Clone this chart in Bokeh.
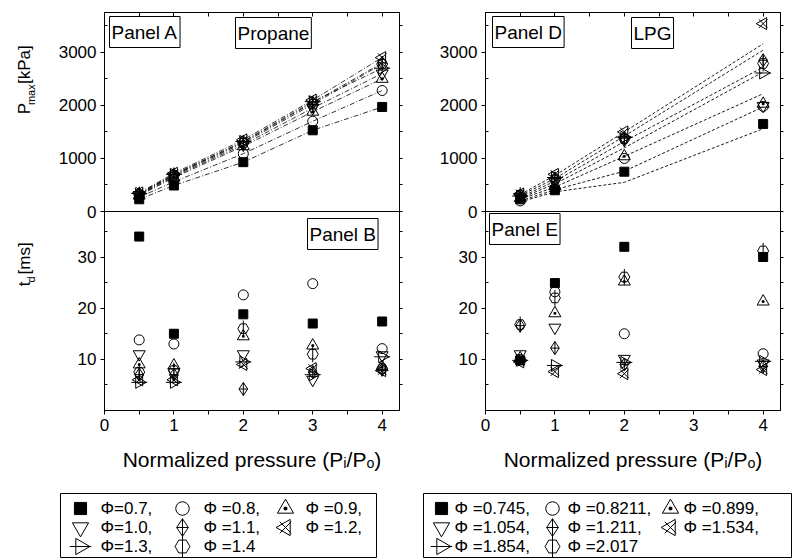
import math
from bokeh.plotting import figure
from bokeh.layouts import column, row
from bokeh.models import Range1d, FixedTicker, LinearAxis, Label, Span, CustomJSTickFormatter
from bokeh.core.properties import value
from bokeh.embed import file_html
from bokeh.resources import INLINE

# ---------------- data ----------------
p_ratio_propane = [0.5, 1, 2, 3, 4]
p_ratio_lpg = [0.5, 1, 2, 4]

phi_propane_labels = ["Φ=0.7,", "Φ =0.8,", "Φ =0.9,", "Φ=1.0,", "Φ =1.1,", "Φ =1.2,", "Φ=1.3,", "Φ =1.4"]
phi_lpg_labels = ["Φ =0.745,", "Φ =0.8211,", "Φ =0.899,", "Φ =1.054,", "Φ =1.211,", "Φ =1.534,", "Φ =1.854,", "Φ =2.017"]

# Panel A: propane, Pmax [kPa]
pmax_propane_07 = [230, 490, 930, 1530, 1970]
pmax_propane_08 = [270, 560, 1090, 1700, 2280]
pmax_propane_09 = [300, 640, 1230, 1880, 2500]
pmax_propane_10 = [310, 660, 1260, 1950, 2600]
pmax_propane_11 = [330, 690, 1310, 2050, 2800]
pmax_propane_12 = [350, 720, 1350, 2100, 2900]
pmax_propane_13 = [340, 700, 1320, 2070, 2700]
pmax_propane_14 = [320, 680, 1290, 2020, 2780]

# Panel B: propane, td [ms]
td_propane_07 = [34.0, 15.0, 18.8, 17.0, 17.4]
td_propane_08 = [13.8, 13.0, 22.6, 24.8, 12.1]
td_propane_09 = [9.0, 8.8, 14.5, 12.7, 8.5]
td_propane_10 = [11.0, 7.5, 11.0, 6.0, 10.8]
td_propane_11 = [7.0, 7.0, 4.2, 7.5, 8.0]
td_propane_12 = [6.0, 6.0, 9.0, 8.2, 7.8]
td_propane_13 = [5.5, 5.5, 9.5, 7.0, 10.5]
td_propane_14 = [7.5, 7.8, 16.0, 11.0, 8.2]

# Panel D: LPG, Pmax [kPa]
pmax_lpg_0745 = [230, 400, 750, 1650]
pmax_lpg_0821 = [200, 430, 1000, 1980]
pmax_lpg_0899 = [250, 480, 1040, 2030]
pmax_lpg_1054 = [270, 560, 1350, 1990]
pmax_lpg_1211 = [300, 620, 1380, 2850]
pmax_lpg_1534 = [330, 700, 1500, 3540]
pmax_lpg_1854 = [290, 640, 1400, 2610]
pmax_lpg_2017 = [310, 600, 1370, 2790]

# Panel D: dashed curves
curve_lpg_1 = [180, 370, 550, 1560]
curve_lpg_2 = [200, 410, 760, 1970]
curve_lpg_3 = [230, 460, 1040, 2220]
curve_lpg_4 = [250, 520, 1200, 2630]
curve_lpg_5 = [270, 570, 1320, 2720]
curve_lpg_6 = [300, 620, 1420, 3040]
curve_lpg_7 = [320, 680, 1500, 3160]

# Panel E: LPG, td [ms]
td_lpg_0745 = [9.8, 24.9, 32.0, 30.0]
td_lpg_0821 = [10.0, 23.2, 15.0, 11.1]
td_lpg_0899 = [10.2, 19.0, 25.2, 21.3]
td_lpg_1054 = [11.0, 16.2, 10.1, 9.2]
td_lpg_1211 = [16.6, 12.2, 9.0, 8.6]
td_lpg_1534 = [9.5, 7.6, 7.2, 8.0]
td_lpg_1854 = [9.8, 8.8, 9.4, 9.6]
td_lpg_2017 = [16.8, 22.0, 26.1, 31.2]

x_ticks = [0, 1, 2, 3, 4]
x_minor = [0.5, 1.5, 2.5, 3.5]
p_ticks = [0, 1000, 2000, 3000]
p_minor = [500, 1500, 2500, 3500]
t_ticks = [0, 10, 20, 30]
t_minor = [5, 15, 25, 35]

# ---------------- styles / layout ----------------
FONT = "Liberation Sans"
TICK_FS = "17px"
STRIP = 48
W_L, W_R = 420, 372
FL_L, FL_R = 104, 399      # left frame (canvas px)
FR_L, FR_R = 485, 780      # right frame
TOP_A, MID, BOT_B = 12, 211, 410
H_MAIN = 493
X_MAX, P_MAX, T_MAX = 4.25, 3750, 38.9
XS = (FL_R - FL_L) / X_MAX
YS_A = (MID - TOP_A) / P_MAX
YS_B = (BOT_B - MID) / T_MAX

MARKERS = [
    [("square", 0, 9, "black")],
    [("circle", 0, 10, None)],
    [("triangle_dot", 0, 12, None)],
    [("inverted_triangle", 0, 12, None)],
    [("diamond_cross", 0, 13, None)],
    [("x", 0, 12, None), ("triangle", math.pi / 2, 12, None)],
    [("triangle", -math.pi / 2, 12, None), ("dash", 0, 16, None)],
    [("hex", 0, 11, None), ("dash", math.pi / 2, 16, None)],
]


def t_to_main(t):
    # lower panel value -> main (upper-panel) units, for the shared left axis
    return -P_MAX + t * P_MAX / T_MAX


LEFT_TICKS = p_ticks + [t_to_main(t) for t in t_ticks if t > 0]
LEFT_MINOR = p_minor + [t_to_main(t) for t in t_minor]
TICK_FMT = CustomJSTickFormatter(code=f"""
    if (tick >= -0.5) return Math.round(tick).toString();
    return Math.round((tick + {P_MAX}) * {T_MAX} / {P_MAX}).toString();
""")


def make_fig(width, left, right):
    p = figure(width=width, height=H_MAIN, x_range=Range1d(0, X_MAX), y_range=Range1d(-P_MAX, P_MAX),
               output_backend="svg", toolbar_location=None,
               min_border_left=left, min_border_right=right, min_border_top=TOP_A,
               min_border_bottom=H_MAIN - BOT_B,
               background_fill_color="white", border_fill_color="white",
               outline_line_color="black", outline_line_width=1,
               x_axis_location=None, y_axis_location=None)
    p.grid.visible = False
    p.extra_y_ranges = {"td": Range1d(0, 2 * T_MAX)}
    p.add_layout(Span(location=0, dimension="width", line_color="black", line_width=1))
    return p


def add_axis(p, place, ticks, minor, fmt, t_in, t_out, m_in, m_out):
    ax = LinearAxis(ticker=FixedTicker(ticks=ticks, minor_ticks=minor),
                    axis_line_color="black", major_tick_line_color="black", minor_tick_line_color="black",
                    major_tick_in=t_in, major_tick_out=t_out, minor_tick_in=m_in, minor_tick_out=m_out,
                    major_label_text_font=FONT, major_label_text_font_size=TICK_FS,
                    major_label_text_color="black", major_label_standoff=4)
    if fmt is None:
        ax.formatter = CustomJSTickFormatter(code="return ''")
        ax.major_label_standoff = 0
    elif fmt != "default":
        ax.formatter = fmt
    p.add_layout(ax, place)
    return ax


def setup_axes(p):
    add_axis(p, "left", LEFT_TICKS, LEFT_MINOR, TICK_FMT, 0, 4, 3, 0)
    add_axis(p, "right", LEFT_TICKS, LEFT_MINOR, None, 0, 3, 0, 3)
    add_axis(p, "above", x_ticks, x_minor, None, 4, 0, 4, 0)
    ax = add_axis(p, "below", x_ticks, x_minor, "default", 0, 4, 0, 4)
    ax.axis_label = "Normalized pressure (Pᵢ/Pₒ)"
    ax.axis_label_text_font = FONT
    ax.axis_label_text_font_size = "21px"
    ax.axis_label_text_font_style = "normal"
    ax.axis_label_text_color = "black"
    ax.axis_label_standoff = 14


def draw_series(p, xs, ys, styles, rng="default"):
    for (m, a, s, fc) in styles:
        p.scatter(x=xs, y=ys, marker=m, angle=a, size=s, line_color="black", fill_color=fc,
                  line_width=1, y_range_name=rng)


def box_label(p, text, x, y, rng="default"):
    p.add_layout(Label(x=x, y=y, text=text, text_font=FONT, text_font_size="19px", text_color="black",
                       text_align="left", text_baseline="top", y_range_name=rng,
                       border_line_color="black", border_line_width=1, background_fill_color="white",
                       padding=(2, 5)))


# ---------------- left column: panels A (top) and B (bottom) ----------------
pL = make_fig(W_L - STRIP, FL_L - STRIP, W_L - FL_R)
setup_axes(pL)
propane_pmax = [pmax_propane_07, pmax_propane_08, pmax_propane_09, pmax_propane_10,
                pmax_propane_11, pmax_propane_12, pmax_propane_13, pmax_propane_14]
propane_td = [td_propane_07, td_propane_08, td_propane_09, td_propane_10,
              td_propane_11, td_propane_12, td_propane_13, td_propane_14]
for ys in propane_pmax:
    pL.line(p_ratio_propane, ys, line_color="black", line_width=0.8, line_dash="5 2 1 2")
for ys, st in zip(propane_pmax, MARKERS):
    draw_series(pL, p_ratio_propane, ys, st)
for ys, st in zip(propane_td, MARKERS):
    draw_series(pL, p_ratio_propane, ys, st, "td")
box_label(pL, "Panel A", (109 - FL_L) / XS, (MID - 16) / YS_A)
box_label(pL, "Propane", (235 - FL_L) / XS, (MID - 17) / YS_A)
box_label(pL, "Panel B", (307 - FL_L) / XS, (BOT_B - 218) / YS_B, "td")

# ---------------- right column: panels D (top) and E (bottom) ----------------
pR = make_fig(W_R, FR_L - W_L, W_L + W_R - FR_R)
setup_axes(pR)
lpg_curves = [curve_lpg_1, curve_lpg_2, curve_lpg_3, curve_lpg_4, curve_lpg_5, curve_lpg_6, curve_lpg_7]
lpg_pmax = [pmax_lpg_0745, pmax_lpg_0821, pmax_lpg_0899, pmax_lpg_1054,
            pmax_lpg_1211, pmax_lpg_1534, pmax_lpg_1854, pmax_lpg_2017]
lpg_td = [td_lpg_0745, td_lpg_0821, td_lpg_0899, td_lpg_1054,
          td_lpg_1211, td_lpg_1534, td_lpg_1854, td_lpg_2017]
for ys in lpg_curves:
    pR.line(p_ratio_lpg, ys, line_color="black", line_width=0.9, line_dash="3 2")
for ys, st in zip(lpg_pmax, MARKERS):
    draw_series(pR, p_ratio_lpg, ys, st)
for ys, st in zip(lpg_td, MARKERS):
    draw_series(pR, p_ratio_lpg, ys, st, "td")
box_label(pR, "Panel D", (492 - FR_L) / XS, (MID - 16) / YS_A)
box_label(pR, "LPG", (631 - FR_L) / XS, (MID - 17) / YS_A)
box_label(pR, "Panel E", (489 - FR_L) / XS, (BOT_B - 213) / YS_B, "td")

# ---------------- y-axis titles (strip at the far left) ----------------
pS = figure(width=STRIP, height=H_MAIN, x_range=Range1d(0, STRIP), y_range=Range1d(0, H_MAIN),
            min_border_left=0, min_border_right=0, min_border_top=0, min_border_bottom=0,
            x_axis_location=None, y_axis_location=None, toolbar_location=None, output_backend="svg",
            outline_line_color=None, background_fill_color="white", border_fill_color="white")
pS.grid.visible = False
# (text, font size, centre x, start y) in canvas pixels; subscripts are smaller and lowered
title_parts = [("P", "17px", 24, 126), ("max", "11px", 30, 114.7), ("[kPa]", "17px", 24, 88.5),
               ("t", "17px", 24, 339), ("d", "11px", 30, 334.3), ("[ms]", "17px", 24, 324.5)]
for txt, fs, cx, sy in title_parts:
    pS.text(x=[cx], y=[H_MAIN - sy], text=[txt], angle=math.pi / 2, text_font=value(FONT),
            text_font_size=fs, text_align="left", text_baseline="middle", text_color="black")


# ---------------- legends ----------------
def legend_fig(width, left, right, x0, x1, labels, glyph_x, text_x, rows_y, scale=1.35):
    p = figure(width=width, height=65, x_range=Range1d(x0, x1), y_range=Range1d(558, 493),
               min_border_left=left, min_border_right=right, min_border_top=0, min_border_bottom=0,
               x_axis_location=None, y_axis_location=None, toolbar_location=None, output_backend="svg",
               outline_line_color="black", background_fill_color="white", border_fill_color="white")
    p.grid.visible = False
    for i, (lab, styles) in enumerate(zip(labels, MARKERS)):
        r, c = divmod(i, 3)
        for (m, a, s, fc) in styles:
            p.scatter(x=[glyph_x[c]], y=[rows_y[r]], marker=m, angle=a, size=s * scale,
                      line_color="black", fill_color=fc, line_width=1)
        p.text(x=[text_x[c]], y=[rows_y[r]], text=[lab], text_font=value(FONT), text_font_size="17px",
               text_align="left", text_baseline="middle", text_color="black")
    return p


pLL = legend_fig(W_L, 60, W_L - 376, 60, 376, phi_propane_labels,
                 [80, 182, 285], [100, 203, 305], [508, 527, 546])
pLR = legend_fig(W_R, 3, 0, 423, 792, phi_lpg_labels,
                 [441, 552, 670], [454, 567, 683], [508, 527, 546])

layout = column(row(pS, pL, pR), row(pLL, pLR))
open("out.html", "w").write(file_html(layout, INLINE))
